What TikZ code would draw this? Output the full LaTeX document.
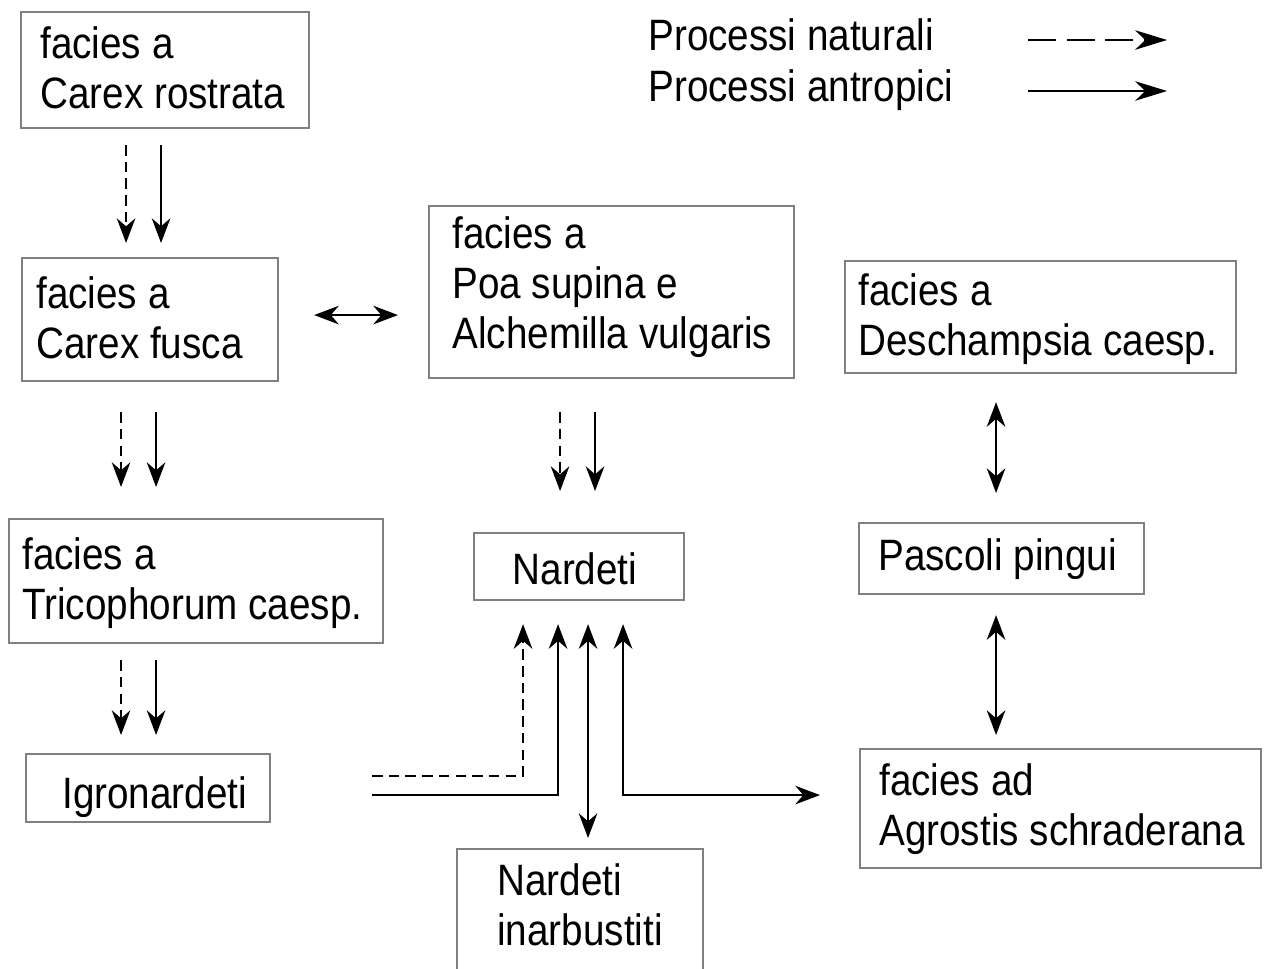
\documentclass[tikz,border=0pt]{standalone}
\usepackage{fontspec}
\setmainfont{Liberation Sans}[FakeStretch=0.88]
\usetikzlibrary{arrows.meta,calc}
\newdimen\pxu \pxu=0.02cm
\tikzset{
  box/.style={draw=black!50, line width=1.2pt, fill=white, rectangle, inner sep=0pt, anchor=north west},
  txt/.style={font=\fontsize{25}{28.6}\selectfont, align=left, inner sep=0pt, anchor=north west},
  conn/.style={line width=1.5pt, draw=black},
  tipA/.tip={Stealth[length=14pt,width=10.5pt,inset=4.5pt]},
  tipL/.tip={Stealth[length=18pt,width=11pt,inset=5.5pt]},
  nat/.style={conn, dash pattern=on 6pt off 3.5pt, -tipA},
  ant/.style={conn, -tipA},
  both/.style={conn, tipA-tipA},
  legnat/.style={conn, dash pattern=on 16pt off 6pt, -tipL},
  legant/.style={conn, -tipL}
}
\begin{document}
\begin{tikzpicture}[x=0.02cm, y=-0.02cm]
\useasboundingbox (0,0) rectangle (1264,968);
\clip (0,0) rectangle (1264,968);
\fill[white] (0,0) rectangle (1264,968);

% boxes
\node[box, minimum width=288\pxu, minimum height=116\pxu] (cr) at (20,11) {};
\node[box, minimum width=256\pxu, minimum height=123\pxu] (cf) at (21,257) {};
\node[box, minimum width=365\pxu, minimum height=172\pxu] (pa) at (428,205) {};
\node[box, minimum width=391\pxu, minimum height=112\pxu] (de) at (844,260) {};
\node[box, minimum width=374\pxu, minimum height=124\pxu] (tr) at (8,518) {};
\node[box, minimum width=210\pxu, minimum height=67\pxu] (na) at (473,532) {};
\node[box, minimum width=285\pxu, minimum height=71\pxu] (pp) at (858,522) {};
\node[box, minimum width=244\pxu, minimum height=68\pxu] (ig) at (25,753) {};
\node[box, minimum width=401\pxu, minimum height=119\pxu] (ag) at (859,748) {};
\node[box, minimum width=246\pxu, minimum height=170\pxu] (ni) at (456,848) {};

% texts
\node[txt] (crT) at (40,26) {facies a\\Carex rostrata};
\node[txt] (cfT) at (36,276) {facies a\\Carex fusca};
\node[txt] (paT) at (452,216) {facies a\\Poa supina e\\Alchemilla vulgaris};
\node[txt] (deT) at (858,273) {facies a\\Deschampsia caesp.};
\node[txt] (trT) at (22,537) {facies a\\Tricophorum caesp.};
\node[txt, anchor=north] (naT) at (575,552) {Nardeti};
\node[txt] (ppT) at (878,538) {Pascoli pingui};
\node[txt] (igT) at (62,776) {Igronardeti};
\node[txt] (agT) at (879,763) {facies ad\\Agrostis schraderana};
\node[txt] (niT) at (497,863) {Nardeti\\inarbustiti};

% legend
\node[txt] (lnT) at (648,18) {Processi naturali};
\node[txt] (laT) at (648,69) {Processi antropici};
\coordinate (l1s) at (1028,40);
\coordinate (l1e) at (1167,40);
\coordinate (l2s) at (1028,91);
\coordinate (l2e) at (1167,91);
\draw[legnat] (l1s) -- (l1e);
\draw[legant] (l2s) -- (l2e);

% connectors
\draw[nat] ($(cr.south)+(-39,16)$) -- ($(cr.south |- cf.north)+(-39,-14)$);
\draw[ant] ($(cr.south)+(-4,16)$) -- ($(cr.south |- cf.north)+(-4,-14)$);

\draw[nat] ($(cf.south)+(-29,30)$) -- ($(cf.south |- tr.north)+(-29,-31)$);
\draw[ant] ($(cf.south)+(6,30)$) -- ($(cf.south |- tr.north)+(6,-31)$);

\draw[nat] ($(tr.south)+(-75,16)$) -- ($(tr.south |- ig.north)+(-75,-18)$);
\draw[ant] ($(tr.south)+(-40,16)$) -- ($(tr.south |- ig.north)+(-40,-18)$);

\draw[both] ($(cf.east)+(35,-4.5)$) -- ($(cf.east -| pa.west)+(-30,-4.5)$);

\draw[nat] ($(pa.south)+(-51.5,33)$) -- ($(pa.south |- na.north)+(-51.5,-41)$);
\draw[ant] ($(pa.south)+(-16.5,33)$) -- ($(pa.south |- na.north)+(-16.5,-41)$);

\draw[both] ($(pp.north |- de.south)+(-5.5,28)$) -- ($(pp.north)+(-5.5,-29)$);
\draw[both] ($(pp.south)+(-5.5,20)$) -- ($(pp.south |- ag.north)+(-5.5,-13)$);

\draw[nat] ($(ig.east)+(101,-12)$) -| ($(na.south)+(-56,23)$);
\draw[ant] ($(ig.east)+(101,7)$) -| ($(na.south)+(-21,23)$);
\draw[both] ($(na.south)+(9,23)$) -- ($(na.south |- ni.north)+(9,-10)$);
\draw[both] ($(na.south)+(44,23)$) |- ($(ag.west)+(-39,-13.5)$);
\end{tikzpicture}
\end{document}
